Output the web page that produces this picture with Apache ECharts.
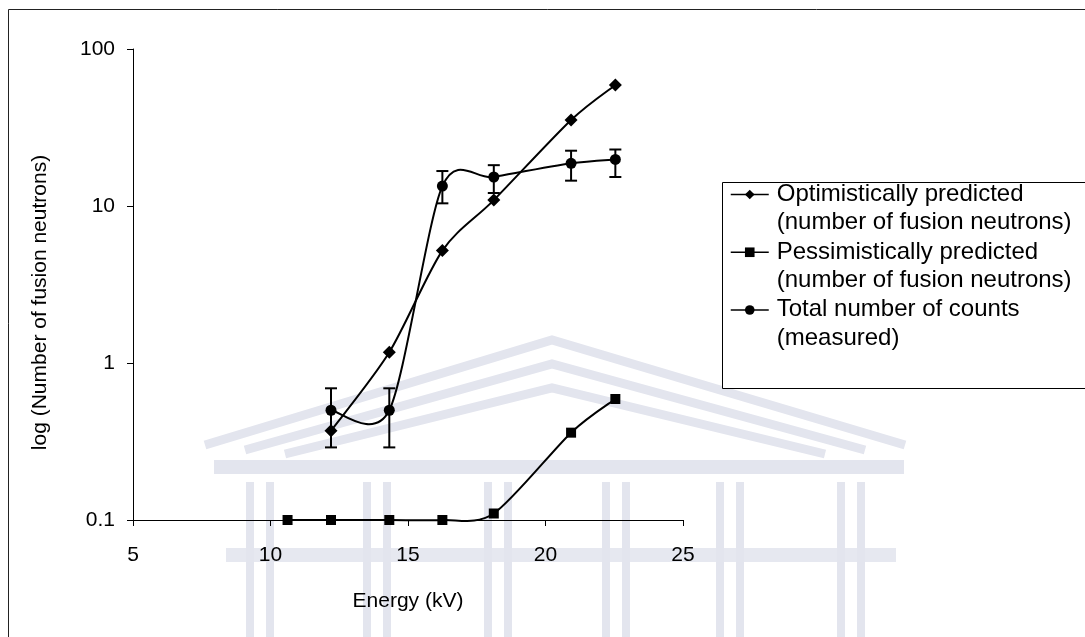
<!DOCTYPE html>
<html>
<head>
<meta charset="utf-8">
<script src="https://cdn.jsdelivr.net/npm/echarts@6/dist/echarts.min.js"></script>
<style>
  html, body { margin: 0; padding: 0; background: #fff; }
  #chart { width: 1085px; height: 637px; }
</style>
</head>
<body>
<div id="chart"></div>
<script>
// energies (kV) shared by all series; first point only exists for the pessimistic one
const energy = [10.62, 12.2, 14.32, 16.25, 18.12, 20.93, 22.54];
const optimistic = [0.37, 1.17, 5.2, 10.9, 35.3, 59];
const pessimistic = [0.1, 0.1, 0.1, 0.1, 0.11, 0.36, 0.59];
const measured = [0.5, 0.5, 13.4, 15.3, 18.7, 19.8];
const errHigh = [0.69, 0.69, 16.7, 18.2, 22.5, 22.9];
const errLow = [0.29, 0.29, 10.4, 12.1, 14.5, 15.3];
const xTicks = [5, 10, 15, 20, 25];
const yTicks = [0.1, 1, 10, 100];

const names = [
  "Optimistically predicted\n(number of fusion neutrons)",
  "Pessimistically predicted\n(number of fusion neutrons)",
  "Total number of counts\n(measured)",
];

const font = "'Liberation Sans', Arial, sans-serif";
const wm = "#e3e5ee";

// faint building watermark behind the plot
const watermark = [
  { type: "polyline", shape: { points: [[205, 445], [552, 340], [905, 445]] } },
  { type: "polyline", shape: { points: [[245, 450], [552, 364], [865, 450]] } },
  { type: "polyline", shape: { points: [[285, 454], [552, 388], [825, 454]] } },
].map((el) => ({ ...el, silent: true, z: -10, style: { stroke: wm, lineWidth: 9, fill: null } }));
watermark.push({
  type: "rect", silent: true, z: -10,
  shape: { x: 214, y: 460, width: 690, height: 14 },
  style: { fill: wm },
});
watermark.push({
  type: "rect", silent: true, z: -10,
  shape: { x: 226, y: 548, width: 670, height: 14 },
  style: { fill: "#e6e8f0" },
});
[246, 363, 484, 602, 716, 837].forEach((cx) => {
  [0, 20].forEach((dx) => {
    watermark.push({
      type: "rect", silent: true, z: -10,
      shape: { x: cx + dx, y: 482, width: 8, height: 160 },
      style: { fill: wm },
    });
  });
});

// smooth curve through the points (Excel-like cardinal spline), drawn in pixel space
const tension = 0.14;
function curveSeries(xs, ys, width) {
  const n = xs.length;
  return {
    type: "custom",
    z: 3,
    silent: true,
    data: xs.map((x, i) => [x, ys[i]]),
    encode: { x: 0, y: 1 },
    renderItem: (params, api) => {
      const i = params.dataIndex;
      if (i >= n - 1) return { type: "group", children: [] };
      const pt = (k) => api.coord([xs[Math.max(0, Math.min(n - 1, k))], ys[Math.max(0, Math.min(n - 1, k))]]);
      const p0 = pt(i - 1), p1 = pt(i), p2 = pt(i + 1), p3 = pt(i + 2);
      return {
        type: "bezierCurve",
        shape: {
          x1: p1[0], y1: p1[1], x2: p2[0], y2: p2[1],
          cpx1: p1[0] + (p2[0] - p0[0]) * tension, cpy1: p1[1] + (p2[1] - p0[1]) * tension,
          cpx2: p2[0] - (p3[0] - p1[0]) * tension, cpy2: p2[1] - (p3[1] - p1[1]) * tension,
        },
        style: { stroke: "#000", lineWidth: width, fill: null },
      };
    },
  };
}

function markerSeries(name, symbol, size, xs, ys) {
  return {
    name,
    type: "line",
    symbol,
    symbolSize: size,
    showAllSymbol: true,
    clip: false,
    itemStyle: { color: "#000" },
    lineStyle: { color: "#000", opacity: 0 },
    data: xs.map((x, i) => [x, ys[i]]),
    z: 4,
  };
}

const chart = echarts.init(document.getElementById("chart"));

const option = {
  animation: false,
  textStyle: { fontFamily: font, color: "#000" },
  graphic: {
    elements: [
      ...watermark,
      // outer frame
      {
        type: "rect", silent: true, z: -5,
        shape: { x: 8.5, y: 9.5, width: 1100, height: 650 },
        style: { fill: null, stroke: "#222", lineWidth: 1 },
      },
      // legend box
      {
        type: "rect", silent: true, z: 1,
        shape: { x: 722.5, y: 182.5, width: 400, height: 206 },
        style: { fill: "#fff", stroke: "#000", lineWidth: 1 },
      },
    ],
  },
  legend: {
    data: names,
    orient: "vertical",
    left: 730,
    top: 154,
    padding: 0,
    itemWidth: 38,
    itemHeight: 12,
    itemGap: -23,
    lineStyle: { color: "#000", width: 1.5, opacity: 1 },
    // empty first line keeps the icon level with the first text line
    formatter: (name) => "{e| }\n{a|" + name.split("\n").join("}\n{a|") + "}",
    textStyle: {
      fontFamily: font,
      fontSize: 24,
      color: "#000",
      rich: {
        e: { fontSize: 24, lineHeight: 28, fontFamily: font },
        a: { fontSize: 24, lineHeight: 28.5, fontFamily: font, color: "#000", padding: [0, 0, 0, 3] },
      },
    },
  },
  grid: { left: 133, top: 49, width: 550, height: 471 },
  xAxis: {
    type: "value",
    min: xTicks[0],
    max: xTicks[xTicks.length - 1],
    interval: 5,
    name: "Energy (kV)",
    nameLocation: "middle",
    nameGap: 71,
    nameTextStyle: { fontFamily: font, fontSize: 21, color: "#000" },
    axisLine: { lineStyle: { color: "#000", width: 1 } },
    axisTick: { show: true, length: 6, lineStyle: { color: "#000" } },
    axisLabel: { margin: 25, fontSize: 21, color: "#000", fontFamily: font },
    splitLine: { show: false },
  },
  yAxis: {
    type: "log",
    logBase: 10,
    min: yTicks[0],
    max: yTicks[yTicks.length - 1],
    name: "log (Number of fusion neutrons)",
    nameLocation: "middle",
    nameGap: 82,
    nameTextStyle: { fontFamily: font, fontSize: 21, color: "#000", padding: [0, 36, 0, 0] },
    axisLine: { show: true, lineStyle: { color: "#000", width: 1 } },
    axisTick: { show: true, length: 6, lineStyle: { color: "#000" } },
    axisLabel: {
      margin: 18, fontSize: 21, color: "#000", fontFamily: font,
      formatter: (v) => String(Number(v.toPrecision(3))),
    },
    splitLine: { show: false },
  },
  series: [
    markerSeries(names[0], "diamond", 13, energy.slice(1), optimistic),
    markerSeries(names[1], "rect", 10, energy, pessimistic),
    markerSeries(names[2], "circle", 11, energy.slice(1), measured),
    curveSeries(energy.slice(1), optimistic, 2),
    curveSeries(energy, pessimistic, 2),
    curveSeries(energy.slice(1), measured, 2),
    {
      name: "error",
      type: "custom",
      z: 3,
      silent: true,
      encode: { x: 0, y: [1, 2] },
      data: measured.map((v, i) => [energy[i + 1], errHigh[i], errLow[i]]),
      renderItem: (params, api) => {
        const x = api.value(0);
        const top = api.coord([x, api.value(1)]);
        const bot = api.coord([x, api.value(2)]);
        const w = 6;
        const st = { stroke: "#000", lineWidth: 2 };
        return {
          type: "group",
          children: [
            { type: "line", shape: { x1: top[0], y1: top[1], x2: bot[0], y2: bot[1] }, style: st },
            { type: "line", shape: { x1: top[0] - w, y1: top[1], x2: top[0] + w, y2: top[1] }, style: st },
            { type: "line", shape: { x1: bot[0] - w, y1: bot[1], x2: bot[0] + w, y2: bot[1] }, style: st },
          ],
        };
      },
    },
  ],
};

chart.setOption(option);
</script>
</body>
</html>
